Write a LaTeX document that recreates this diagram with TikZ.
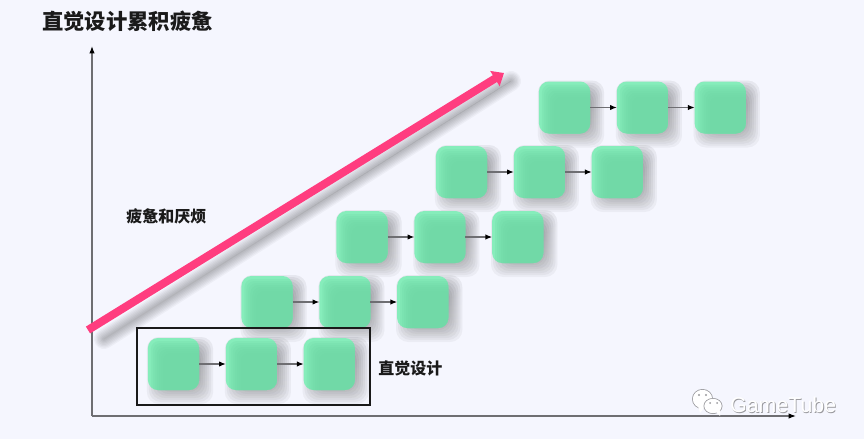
\documentclass[tikz,border=0pt]{standalone}
\usepackage{fontspec}
\setmainfont{Noto Sans CJK SC}
\setsansfont{Liberation Sans}
\usetikzlibrary{arrows.meta, positioning, calc, backgrounds}
\definecolor{paper}{HTML}{F5F6FE}
\definecolor{cardedge}{HTML}{86EDBB}
\definecolor{cardcore}{HTML}{70D8A6}
\definecolor{rosepink}{HTML}{FF3D7F}
\definecolor{axisgray}{HTML}{6E6E72}
\definecolor{shade}{HTML}{3A4055}
\definecolor{inkblack}{HTML}{1A1A1A}
\definecolor{markgray}{HTML}{9A9A9E}

\tikzset{
  card/.style={minimum width=38.4pt, minimum height=39pt, inner sep=0pt, outer sep=0pt,
    rounded corners=7.5pt, fill=cardedge,
    path picture={
      \foreach \s in {6,4,2,0,-2,-4,-6}{
        \fill[cardcore, opacity=0.25, rounded corners=6pt]
          ($(path picture bounding box.north west)+(9+\s,9+\s)$) rectangle
          ($(path picture bounding box.south east)+(30,30)$);
      }
    }},
  flow/.style={-{Latex[length=5pt, width=4pt, color=black]}, axisgray, line width=0.8pt},
  axisline/.style={-{Latex[length=5.5pt, width=4pt, color=black]}, axisgray, line width=0.8pt},
  heading/.style={font=\bfseries, text=inkblack, inner sep=0pt}
}

% blurred drop shadow behind a card
\newcommand{\softshadow}[1]{
  \begin{pgfonlayer}{background}
    \foreach \s in {8,6,4,2,0,-2,-4,-6,-8}{
      \fill[shade, opacity=0.04, rounded corners=9pt]
        ($(#1.north west)+(7-\s,7-\s)$) rectangle ($(#1.south east)+(6+\s,6+\s)$);
    }
  \end{pgfonlayer}
}

\begin{document}
\begin{tikzpicture}[x=0.75pt, y=-0.75pt]
\useasboundingbox (0,0) rectangle (864,439);

% Background
\begin{pgfonlayer}{background}
  \fill[paper] (0,0) rectangle (864,439);
\end{pgfonlayer}

% Title
\node[heading, font=\fontsize{16}{18}\selectfont\bfseries, anchor=west] (title) at (42,21) {直觉设计累积疲惫};

% Axes
\coordinate (origin) at (92,416);
\coordinate (ytop) at (92,46);
\coordinate (xend) at (796,416);
\draw[axisline] (origin) -- (ytop);
\draw[axisline] (origin) -- (xend);

% Rising arrow, shadow first
\coordinate (risestart) at (88,330);
\coordinate (riseend) at (504,73);
\begin{pgfonlayer}{background}
  \foreach \s in {15,13,11,9,7,5,3,1}{
    \draw[shade, opacity=0.035, line width=\s pt, line cap=round]
      ($(risestart)+(16,9)$) -- ($(riseend)+(7,8)$);
  }
\end{pgfonlayer}
\draw[rosepink, line width=6pt, -{Triangle[length=8pt, width=13pt]}] (risestart) -- (riseend);

% Rows of cards: row / first x / centre y
\foreach \r/\x/\y in {1/173.5/364, 2/267/302, 3/362/237, 4/461.5/172, 5/564.5/107.5}{
  \node[card] (b\r1) at (\x,\y) {};
  \node[card, right=20pt of b\r1] (b\r2) {};
  \node[card, right=20pt of b\r2] (b\r3) {};
  \softshadow{b\r1}
  \softshadow{b\r2}
  \softshadow{b\r3}
  \draw[flow] (b\r1) -- (b\r2);
  \draw[flow] (b\r2) -- (b\r3);
}

% Frame round the bottom row
\node[draw=inkblack, line width=1.2pt, minimum width=174.5pt, minimum height=57.5pt, inner sep=0pt] (frame) at (253.5,366.5) {};
\node[heading, font=\fontsize{12}{14}\selectfont\bfseries, anchor=west] (intuitive) at (378,368) {直觉设计};
\node[heading, font=\fontsize{12}{14}\selectfont\bfseries, anchor=west] (fatigue) at (126,216) {疲惫和厌烦};

% Watermark
\fill[markgray] (702.5,399) ellipse (10.5 and 10);
\fill[white] (702.5,399) ellipse (9.7 and 9.2);
\fill[white] (698,406) -- (700,413) -- (705,407) -- cycle;
\fill[markgray] (713,406) ellipse (9.5 and 8);
\fill[white] (713,406) ellipse (8.7 and 7.2);
\fill[white] (716,412) -- (720,416) -- (720,410) -- cycle;
\fill[markgray] (699,395) circle (1.1) (706,395) circle (1.1) (710,403) circle (1) (717,403) circle (1);
\node[font=\sffamily\fontsize{16}{18}\selectfont, text=markgray, anchor=west, inner sep=0pt] (marktextshade) at (730.8,405.8) {GameTube};
\node[font=\sffamily\fontsize{16}{18}\selectfont, text=white, anchor=west, inner sep=0pt] (marktext) at (730,405) {GameTube};

\end{tikzpicture}
\end{document}
